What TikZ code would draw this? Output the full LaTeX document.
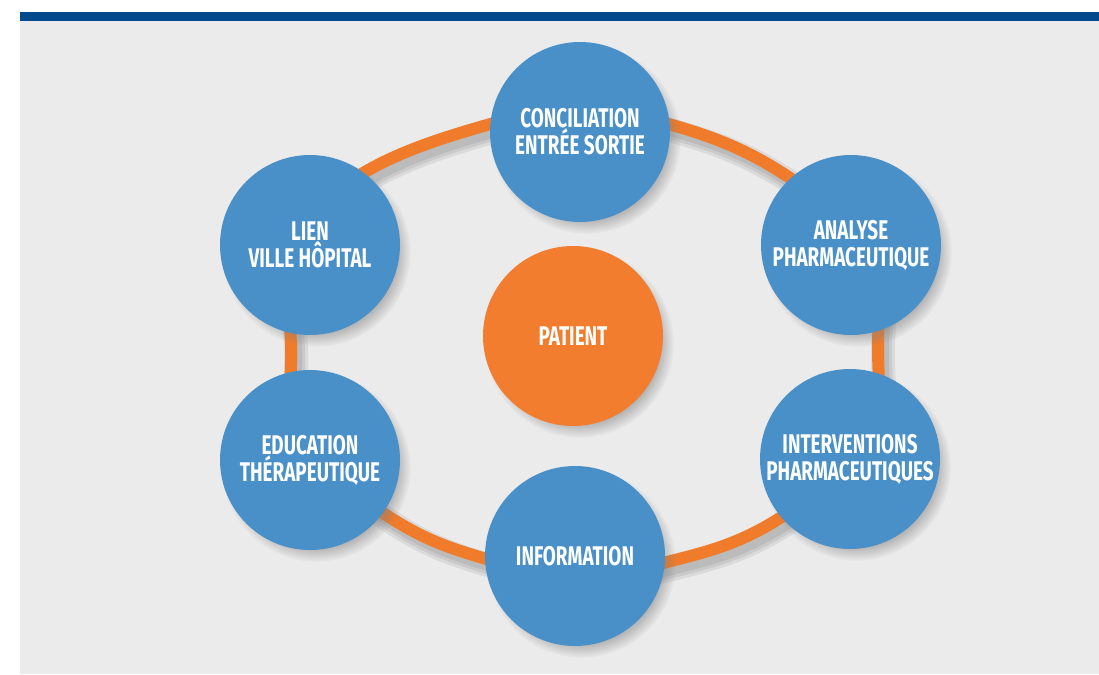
\documentclass[tikz,border=0pt]{standalone}
\usepackage{fontspec}
\newfontfamily\labfont[FakeStretch=0.7]{Fira Sans}
\usetikzlibrary{shadows}
\definecolor{bluebar}{HTML}{034A8C}
\definecolor{bgrey}{HTML}{EBEBEB}
\definecolor{cblue}{HTML}{4A90C8}
\definecolor{corange}{HTML}{F07B2B}
\definecolor{porange}{HTML}{F27D2E}
\begin{document}
\begin{tikzpicture}[x=1pt,y=-1pt,
  bub/.style={circle, fill=cblue, minimum size=180pt, inner sep=0pt, text=white,
    font=\labfont\bfseries\fontsize{27}{27}\selectfont, align=center,
    circular drop shadow={shadow xshift=6pt, shadow yshift=-7pt, shadow scale=1.05, opacity=0.5}},
  center bub/.style={bub, fill=porange},
  ringline/.style={draw=corange, line width=12pt},
  ringshadow/.style={draw=black, opacity=0.07},
]
\fill[white] (0,0) rectangle (1099,674);
\useasboundingbox (0,0) rectangle (1099,674);
\fill[bgrey] (20,21) rectangle (1099,674);
\fill[bluebar] (20,12) rectangle (1099,21);

\def\ringpath{plot[smooth cycle, tension=0.75] coordinates {(291,344) (296,265) (345,185) (487,125) (580,118) (672,125) (790,178) (866,255) (878,344) (864,438) (780,518) (667,562) (575,570) (483,558) (383,513) (303,440)}}
\begin{scope}[shift={(5,7)}]
  \draw[ringshadow, line width=24pt] \ringpath;
  \draw[ringshadow, line width=18pt] \ringpath;
  \draw[ringshadow, line width=12pt] \ringpath;
\end{scope}
\draw[ringline] \ringpath;

\node[bub] (conc) at (580,132) {CONCILIATION\\ENTRÉE SORTIE};
\node[bub] (lien) at (310,245) {LIEN\\VILLE HÔPITAL};
\node[bub] (anal) at (851,245) {ANALYSE\\PHARMACEUTIQUE};
\node[bub] (educ) at (310,460) {EDUCATION\\THÉRAPEUTIQUE};
\node[bub] (intv) at (850,459) {INTERVENTIONS\\PHARMACEUTIQUES};
\node[bub] (info) at (575,556) {INFORMATION};
\node[center bub] (pat) at (573,336) {PATIENT};
\end{tikzpicture}
\end{document}
